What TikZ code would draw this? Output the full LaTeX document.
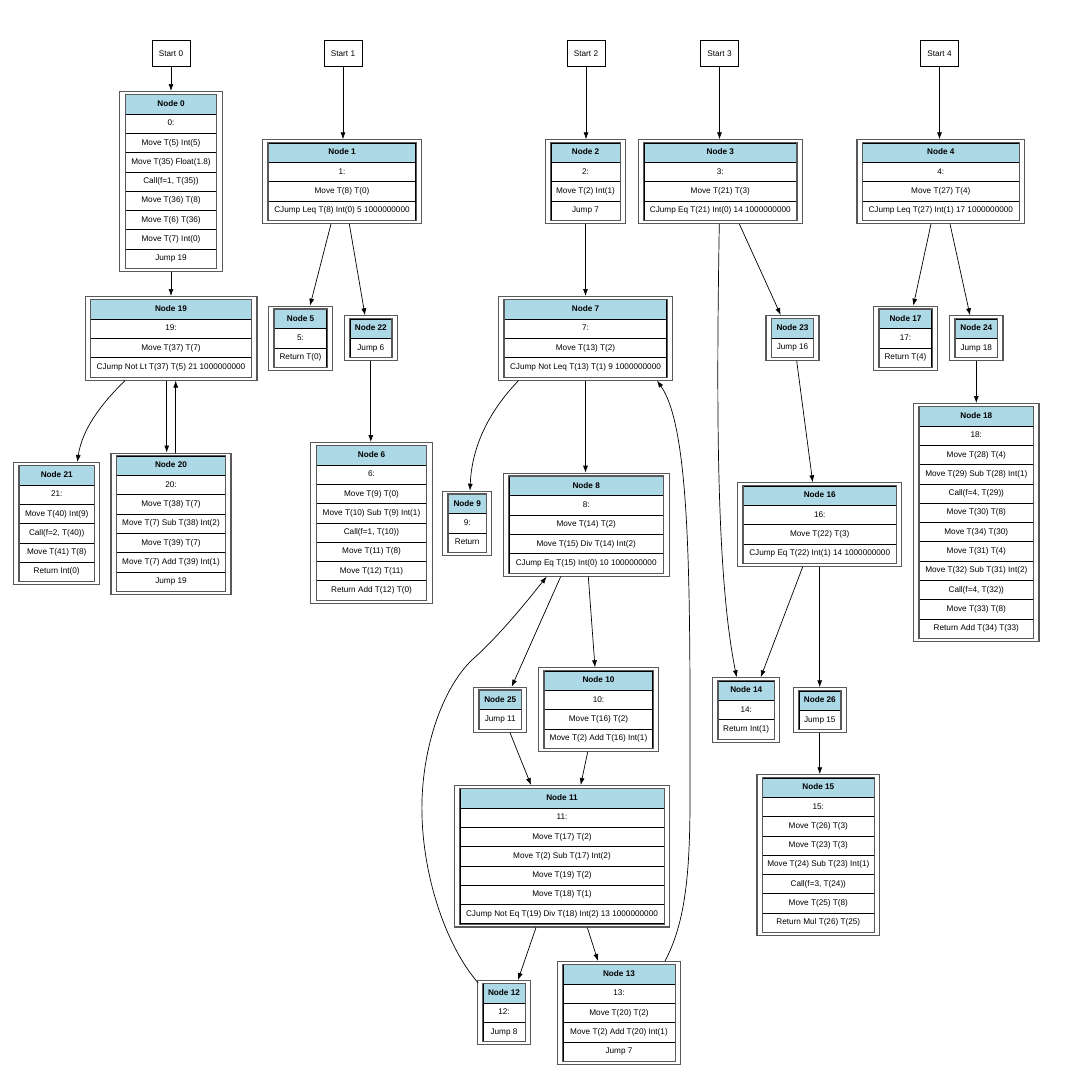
\documentclass[tikz,border=0pt]{standalone}
\usepackage{fontspec}
\setmainfont{Liberation Sans}
\usetikzlibrary{arrows.meta,calc}
\definecolor{hdrblue}{RGB}{173,216,230}
\tikzset{
  every node/.style={font=\fontsize{8.2}{9.5}\selectfont},
  outerbox/.style={draw=black!65, line width=1.1pt, inner sep=0pt, fill=white},
  hdrcell/.style={draw=black, line width=0.7pt, fill=hdrblue, minimum height=19.3pt, inner sep=0pt, text height=6pt, text depth=1.8pt, font=\fontsize{8.2}{9.5}\selectfont\bfseries},
  bodycell/.style={draw=black, line width=0.7pt, fill=white, minimum height=19.3pt, inner sep=0pt, text height=6pt, text depth=1.8pt},
  tableframe/.style={draw=black!65, line width=1.1pt},
  startbox/.style={draw=black, line width=0.8pt, fill=white, minimum width=38pt, minimum height=25.5pt, inner sep=0pt},
  flow/.style={draw=black, line width=0.7pt, -{Latex[length=7pt,width=5pt]}}
}
% #1 name, #2 cx, #3 outer top, #4 inner width, #5 number of rows, #6 header, #7 rows
\newcommand{\cfgblock}[7]{%
  \pgfmathsetmacro{\cfgow}{#4+11.4}%
  \pgfmathsetmacro{\cfgoh}{#5*19.3+6.3}%
  \node[outerbox, minimum width=\cfgow pt, minimum height=\cfgoh pt, anchor=north] (#1) at (#2,#3) {};
  \node[hdrcell, minimum width=#4pt, anchor=north] (#1-0) at (#2,#3+3.3) {#6};
  \foreach \r [count=\i] in {#7} {\node[bodycell, minimum width=#4pt, anchor=north] (#1-\i) at (#2,#3+3.3+\i*19.3) {\r};}
  \pgfmathtruncatemacro{\cfglast}{#5-1}%
  \draw[tableframe] (#1-0.north west) rectangle (#1-\cfglast.south east);
}
\begin{document}
\begin{tikzpicture}[x=1pt,y=-1pt]
\useasboundingbox[fill=white] (0,0) rectangle (1074,1090);

% start nodes
\node[startbox] (s0) at (171,53.3) {Start 0};
\node[startbox] (s1) at (343,53.3) {Start 1};
\node[startbox] (s2) at (586,53.3) {Start 2};
\node[startbox] (s3) at (719.5,53.3) {Start 3};
\node[startbox] (s4) at (939.5,53.3) {Start 4};

% blocks
\cfgblock{n0}{171}{91}{91}{9}{Node 0}{{0:},{Move T(5) Int(5)},{Move T(35) Float(1.8)},{Call(f=1, T(35))},{Move T(36) T(8)},{Move T(6) T(36)},{Move T(7) Int(0)},{Jump 19}}
\cfgblock{n19}{171}{296}{160.5}{4}{Node 19}{{19:},{Move T(37) T(7)},{CJump Not Lt T(37) T(5) 21 1000000000}}
\cfgblock{n21}{56.7}{462}{74.7}{6}{Node 21}{{21:},{Move T(40) Int(9)},{Call(f=2, T(40))},{Move T(41) T(8)},{Return Int(0)}}
\cfgblock{n20}{171}{452.5}{108.6}{7}{Node 20}{{20:},{Move T(38) T(7)},{Move T(7) Sub T(38) Int(2)},{Move T(39) T(7)},{Move T(7) Add T(39) Int(1)},{Jump 19}}
\cfgblock{n1}{342}{139.3}{147.4}{4}{Node 1}{{1:},{Move T(8) T(0)},{CJump Leq T(8) Int(0) 5 1000000000}}
\cfgblock{n5}{300.5}{305.7}{52.4}{3}{Node 5}{{5:},{Return T(0)}}
\cfgblock{n22}{370.8}{315.3}{41.7}{2}{Node 22}{{Jump 6}}
\cfgblock{n6}{371.5}{442}{110}{8}{Node 6}{{6:},{Move T(9) T(0)},{Move T(10) Sub T(9) Int(1)},{Call(f=1, T(10))},{Move T(11) T(8)},{Move T(12) T(11)},{Return Add T(12) T(0)}}
\cfgblock{n2}{585.5}{139.3}{69}{4}{Node 2}{{2:},{Move T(2) Int(1)},{Jump 7}}
\cfgblock{n7}{585.5}{296}{162.4}{4}{Node 7}{{7:},{Move T(13) T(2)},{CJump Not Leq T(13) T(1) 9 1000000000}}
\cfgblock{n9}{467.2}{490.7}{37.7}{3}{Node 9}{{9:},{Return}}
\cfgblock{n8}{586.2}{472.7}{154.3}{5}{Node 8}{{8:},{Move T(14) T(2)},{Move T(15) Div T(14) Int(2)},{CJump Eq T(15) Int(0) 10 1000000000}}
\cfgblock{n25}{500.2}{686.7}{41.7}{2}{Node 25}{{Jump 11}}
\cfgblock{n10}{598.5}{667.3}{108.4}{4}{Node 10}{{10:},{Move T(16) T(2)},{Move T(2) Add T(16) Int(1)}}
\cfgblock{n11}{562}{785}{204}{7}{Node 11}{{11:},{Move T(17) T(2)},{Move T(2) Sub T(17) Int(2)},{Move T(19) T(2)},{Move T(18) T(1)},{CJump Not Eq T(19) Div T(18) Int(2) 13 1000000000}}
\cfgblock{n12}{504}{980}{42}{3}{Node 12}{{12:},{Jump 8}}
\cfgblock{n13}{619}{961}{112}{5}{Node 13}{{13:},{Move T(20) T(2)},{Move T(2) Add T(20) Int(1)},{Jump 7}}
\cfgblock{n3}{720.3}{139.3}{152.7}{4}{Node 3}{{3:},{Move T(21) T(3)},{CJump Eq T(21) Int(0) 14 1000000000}}
\cfgblock{n23}{792.5}{315}{41.6}{2}{Node 23}{{Jump 16}}
\cfgblock{n16}{819.7}{482.3}{152.7}{4}{Node 16}{{16:},{Move T(22) T(3)},{CJump Eq T(22) Int(1) 14 1000000000}}
\cfgblock{n14}{746.2}{677.3}{55.7}{3}{Node 14}{{14:},{Return Int(1)}}
\cfgblock{n26}{819.8}{687.3}{41.7}{2}{Node 26}{{Jump 15}}
\cfgblock{n15}{818.3}{774.3}{111.3}{8}{Node 15}{{15:},{Move T(26) T(3)},{Move T(23) T(3)},{Move T(24) Sub T(23) Int(1)},{Call(f=3, T(24))},{Move T(25) T(8)},{Return Mul T(26) T(25)}}
\cfgblock{n4}{940.8}{139.3}{156.3}{4}{Node 4}{{4:},{Move T(27) T(4)},{CJump Leq T(27) Int(1) 17 1000000000}}
\cfgblock{n17}{905.5}{305.7}{52.4}{3}{Node 17}{{17:},{Return T(4)}}
\cfgblock{n24}{976.3}{315.3}{42}{2}{Node 24}{{Jump 18}}
\cfgblock{n18}{976.3}{403}{114}{12}{Node 18}{{18:},{Move T(28) T(4)},{Move T(29) Sub T(28) Int(1)},{Call(f=4, T(29))},{Move T(30) T(8)},{Move T(34) T(30)},{Move T(31) T(4)},{Move T(32) Sub T(31) Int(2)},{Call(f=4, T(32))},{Move T(33) T(8)},{Return Add T(34) T(33)}}

% edges
\draw[flow] (s0.south) -- (s0.south |- n0.north);
\draw[flow] (s1.south) -- (s1.south |- n1.north);
\draw[flow] (s2.south) -- (s2.south |- n2.north);
\draw[flow] (s3.south) -- (s3.south |- n3.north);
\draw[flow] (s4.south) -- (s4.south |- n4.north);

\draw[flow] (n0.south) -- (n0.south |- n19.north);
\draw[flow] ([xshift=-46pt]n19.south) .. controls (100,405) and (82,430) .. ([xshift=20.6pt]n21.north);
\draw[flow] ([xshift=-4.3pt]n19.south) -- ([xshift=-4.3pt]n19.south |- n20.north);
\draw[flow] ([xshift=4.7pt]n20.north) -- ([xshift=4.7pt]n20.north |- n19.south);

\draw[flow] ([xshift=-11pt]n1.south) -- ([xshift=9.5pt]n5.north);
\draw[flow] ([xshift=7.3pt]n1.south) -- ([xshift=-5.8pt]n22.north);
\draw[flow] (n22.south) -- (n22.south |- n6.north);

\draw[flow] (n2.south) -- (n2.south |- n7.north);
\draw[flow] ([xshift=-67pt]n7.south) .. controls (495,405) and (472,440) .. ([xshift=2.8pt]n9.north);
\draw[flow] (n7.south) -- (n7.south |- n8.north);
\draw[flow] ([xshift=-25.5pt]n8.south) -- ([xshift=11.5pt]n25.north);
\draw[flow] ([xshift=2.1pt]n8.south) -- ([xshift=-3.5pt]n10.north);
\draw[flow] ([xshift=9.8pt]n25.south) -- ([xshift=-31pt]n11.north);
\draw[flow] ([xshift=-10.8pt]n10.south) -- ([xshift=18.7pt]n11.north);
\draw[flow] ([xshift=-26pt]n11.south) -- ([xshift=14pt]n12.north);
\draw[flow] ([xshift=25.3pt]n11.south) -- ([xshift=-21pt]n13.north);
\draw[flow] ([xshift=1.5pt,yshift=-3pt]n12.north west) .. controls (445,945) and (420,870) .. (422,800) .. controls (424,740) and (445,685) .. (473,659) .. controls (500,635) and (528,600) .. ([xshift=-39.5pt]n8.south);
\draw[flow] ([xshift=46pt]n13.north) .. controls (684,925) and (690,880) .. (690,800) .. controls (690,600) and (692,430) .. ([xshift=71.5pt]n7.south);

\draw[flow] ([xshift=-1pt]n3.south) .. controls (716,420) and (717,580) .. ([xshift=-9.5pt]n14.north);
\draw[flow] ([xshift=19pt]n3.south) -- ([xshift=-11.8pt]n23.north);
\draw[flow] ([xshift=4.2pt]n23.south) -- ([xshift=-7pt]n16.north);
\draw[flow] ([xshift=-17pt]n16.south) -- ([xshift=14.5pt]n14.north);
\draw[flow] (n16.south) -- (n16.south |- n26.north);
\draw[flow] (n26.south) -- (n26.south |- n15.north);

\draw[flow] ([xshift=-9.8pt]n4.south) -- ([xshift=7.8pt]n17.north);
\draw[flow] ([xshift=9.2pt]n4.south) -- ([xshift=-6.3pt]n24.north);
\draw[flow] (n24.south) -- (n24.south |- n18.north);
\end{tikzpicture}
\end{document}
